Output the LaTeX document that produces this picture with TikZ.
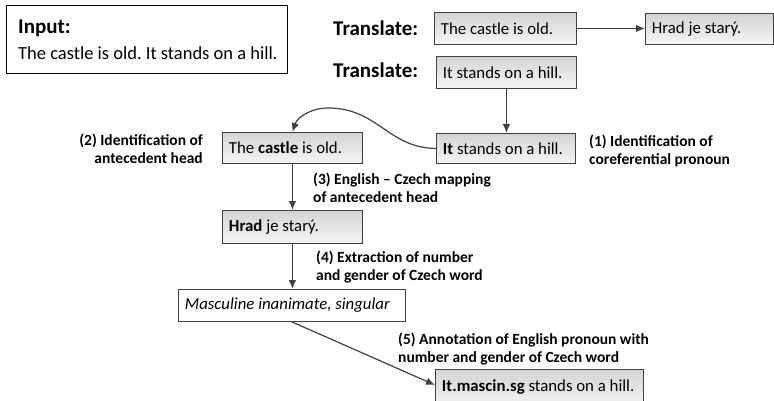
\documentclass[tikz,border=0pt]{standalone}
\usepackage{fontspec}
\setmainfont{Carlito}
\usetikzlibrary{arrows.meta}
\definecolor{edge}{HTML}{404040}
\newcommand{\boxtxt}[2]{\makebox[#1][l]{#2}}
\tikzset{
  gbox/.style={draw=edge, line width=0.9pt, top color=black!17, bottom color=black!4,
    inner xsep=6.5pt, inner ysep=0pt, anchor=north west,
    font=\fontsize{16.8}{19}\selectfont},
  wbox/.style={gbox, top color=white, bottom color=white},
  lab/.style={inner sep=0pt, font=\fontsize{15.5}{18}\selectfont\bfseries},
  head/.style={inner sep=0pt, anchor=west, font=\fontsize{21}{24}\selectfont\bfseries},
  arr/.style={draw=edge, line width=1.2pt, -{Latex[length=9pt,width=7.5pt]}}
}
\begin{document}
\begin{tikzpicture}[x=1pt,y=-1pt]
\useasboundingbox (0,0) rectangle (774,401);
% input box
\node[draw=black, line width=0.8pt, anchor=north west, minimum width=281pt, minimum height=68pt, inner sep=0pt] (inbox) at (6,5) {};
\node[head] (inlab) at (18,28) {Input:};
\node[inner sep=0pt, anchor=west, font=\fontsize{18.5}{21}\selectfont] (intext) at (18,53) {\frenchspacing The castle is old. It stands on a hill.};
% translate rows
\node[head] (tr1) at (333,28) {Translate:};
\node[head] (tr2) at (333,70) {Translate:};
\node[gbox, minimum height=32pt] (t1) at (434,12) {\boxtxt{129pt}{The castle is old.}};
\node[gbox, minimum height=31pt] (h1) at (645,13) {\boxtxt{115pt}{Hrad je starý.}};
\node[gbox, minimum height=32pt] (t2) at (436,56) {\boxtxt{127pt}{It stands on a hill.}};
% steps
\node[gbox, minimum height=30pt] (it) at (436,133) {\boxtxt{126pt}{\textbf{It} stands on a hill.}};
\node[gbox, minimum height=31pt] (castle) at (222,132) {\boxtxt{127pt}{The \textbf{castle} is old.}};
\node[gbox, minimum height=33pt] (hrad) at (222,210) {\boxtxt{127pt}{\textbf{Hrad} je starý.}};
\node[wbox, minimum height=32pt] (masc) at (178,289) {\boxtxt{214pt}{\textit{Masculine inanimate, singular}}};
\node[gbox, minimum height=38pt] (final) at (435,369) {\raisebox{5pt}{\boxtxt{195pt}{\textbf{It.mascin.sg} stands on a hill.}}};
% labels
\node[lab, anchor=west, align=left] (l1) at (589,151) {(1) Identification of\\coreferential pronoun};
\node[lab, anchor=east, align=right] (l2) at (203,149) {(2) Identification of\\antecedent head};
\node[lab, anchor=west, align=left] (l3) at (313,188) {(3) English -- Czech mapping\\of antecedent head};
\node[lab, anchor=west, align=left] (l4) at (316,267) {(4) Extraction of number\\and gender of Czech word};
\node[lab, anchor=west, align=left] (l5) at (398,349) {(5) Annotation of English pronoun with\\number and gender of Czech word};
% connectors
\coordinate (peak) at (328,108);
\draw[arr] (t1.east) -- (h1.west |- t1.east);
\draw[arr] (t2.south) -- (t2.south |- it.north);
\draw[arr] (it.west) .. controls (388,148) and (378,108) .. (peak) .. controls (310,108) and (297,118) .. (castle.north);
\draw[arr] (castle.south) -- (hrad.north);
\draw[arr] (hrad.south) -- (hrad.south |- masc.north);
\draw[arr] (masc.south) -- (final.west |- 0,385);
\end{tikzpicture}
\end{document}
